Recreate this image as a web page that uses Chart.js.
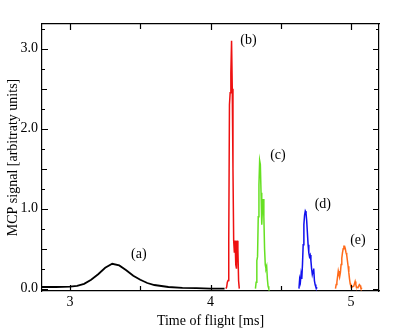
<!DOCTYPE html>
<html>
<head>
<meta charset="utf-8">
<script src="https://cdn.jsdelivr.net/npm/chart.js@4.4.1/dist/chart.umd.min.js"></script>
<style>
  html, body { margin: 0; padding: 0; background: #fff; }
</style>
</head>
<body>
<canvas id="myChart" width="415" height="330"></canvas>
<script>
// peak (a) - black
const xA = [2.80, 2.90, 3.00, 3.05, 3.10, 3.15, 3.20, 3.25, 3.30, 3.35, 3.40, 3.45, 3.50, 3.55, 3.60, 3.70, 3.80, 3.90, 4.00, 4.10];
const yA = [0.02, 0.02, 0.025, 0.035, 0.06, 0.11, 0.18, 0.26, 0.31, 0.29, 0.23, 0.16, 0.11, 0.07, 0.045, 0.02, 0.01, 0.005, 0.0, 0.0];

// peak (b) - red
const xB = [4.11, 4.115, 4.12, 4.125, 4.13, 4.135, 4.14, 4.145, 4.15, 4.155, 4.16, 4.165, 4.17, 4.175, 4.18, 4.185, 4.19, 4.195, 4.20, 4.205];
const yB = [0.0, 0.02, 0.08, 0.1, 0.6, 2.3, 2.45, 2.7, 3.1, 2.5, 1.5, 0.6, 0.45, 0.6, 0.3, 0.25, 0.6, 0.5, 0.1, 0.0];

// peak (c) - green
const xC = [4.32, 4.325, 4.33, 4.335, 4.34, 4.345, 4.35, 4.355, 4.36, 4.365, 4.37, 4.375, 4.38, 4.385, 4.39, 4.395, 4.40, 4.405, 4.41, 4.415];
const yC = [0.0, 0.08, 0.35, 0.4, 0.9, 1.3, 1.6, 1.55, 1.2, 0.8, 1.0, 1.12, 0.9, 0.5, 0.3, 0.25, 0.28, 0.12, 0.03, 0.0];

// peak (d) - blue
const xD = [4.63, 4.635, 4.64, 4.645, 4.65, 4.655, 4.66, 4.665, 4.67, 4.675, 4.68, 4.685, 4.69, 4.695, 4.70, 4.705, 4.71, 4.715, 4.72, 4.725, 4.73, 4.735, 4.74, 4.745, 4.75, 4.76];
const yD = [0.0, 0.12, 0.08, 0.18, 0.12, 0.3, 0.55, 0.8, 0.92, 0.97, 0.95, 0.85, 0.7, 0.55, 0.45, 0.4, 0.42, 0.35, 0.25, 0.18, 0.22, 0.25, 0.1, 0.05, 0.02, 0.0];

// peak (e) - orange
const xE = [4.89, 4.895, 4.90, 4.905, 4.91, 4.915, 4.92, 4.925, 4.93, 4.935, 4.94, 4.945, 4.95, 4.955, 4.96, 4.965, 4.97, 4.975, 4.98, 4.985, 4.99, 4.995, 5.00, 5.01, 5.02, 5.03, 5.035, 5.04, 5.05, 5.06, 5.065, 5.07, 5.08];
const yE = [0.0, 0.05, 0.08, 0.15, 0.22, 0.18, 0.15, 0.2, 0.3, 0.38, 0.45, 0.5, 0.53, 0.53, 0.5, 0.45, 0.42, 0.35, 0.28, 0.2, 0.12, 0.06, 0.03, 0.02, 0.03, 0.09, 0.05, 0.02, 0.01, 0.05, 0.04, 0.01, 0.0];

const peakLabels = ["(a)", "(b)", "(c)", "(d)", "(e)"];
const labelX = [3.49, 4.27, 4.48, 4.80, 5.05];
const labelY = [0.43, 3.10, 1.67, 1.05, 0.60];
const colors = ["#000000", "#ee1111", "#66e022", "#1111ee", "#ff6a1a"];

const xTicks = [3, 4, 5];
const xMinor = [3.5, 4.5];
const yTicks = [0, 1, 2, 3];
const yHalf = [0.5, 1.5, 2.5];
const yQuarter = [0.25, 0.75, 1.25, 1.75, 2.25, 2.75, 3.25];

const serif = "'Liberation Serif', 'Times New Roman', serif";

function toPoints(xs, ys) {
  return xs.map((x, i) => ({ x: x, y: ys[i] }));
}

const series = [
  toPoints(xA, yA),
  toPoints(xB, yB),
  toPoints(xC, yC),
  toPoints(xD, yD),
  toPoints(xE, yE),
];

// inward ticks on all four sides + peak labels
const framePlugin = {
  id: "frame",
  afterDraw(chart) {
    const ctx = chart.ctx;
    const area = chart.chartArea;
    const xs = chart.scales.x;
    const ys = chart.scales.y;
    ctx.save();
    ctx.strokeStyle = "#000";
    ctx.lineWidth = 1.2;

    const xMark = (v, len) => {
      const px = Math.round(xs.getPixelForValue(v)) + 0.5;
      ctx.beginPath();
      ctx.moveTo(px, area.bottom);
      ctx.lineTo(px, area.bottom - len);
      ctx.moveTo(px, area.top);
      ctx.lineTo(px, area.top + len);
      ctx.stroke();
    };
    const yMark = (v, len) => {
      const py = Math.round(ys.getPixelForValue(v)) + 0.5;
      ctx.beginPath();
      ctx.moveTo(area.left, py);
      ctx.lineTo(area.left + len, py);
      ctx.moveTo(area.right, py);
      ctx.lineTo(area.right - len, py);
      ctx.stroke();
    };
    xTicks.forEach((v) => xMark(v, 6));
    xMinor.forEach((v) => xMark(v, 5));
    yTicks.forEach((v) => yMark(v, 6));
    yHalf.forEach((v) => yMark(v, 5));
    yQuarter.forEach((v) => yMark(v, 3));

    ctx.fillStyle = "#000";
    ctx.font = "14px " + serif;
    ctx.textAlign = "center";
    ctx.textBaseline = "middle";
    peakLabels.forEach((t, i) => {
      ctx.fillText(t, xs.getPixelForValue(labelX[i]), ys.getPixelForValue(labelY[i]));
    });
    ctx.restore();
  },
};

const ctx = document.getElementById("myChart").getContext("2d");

new Chart(ctx, {
  type: "line",
  data: {
    datasets: series.map((pts, i) => ({
      data: pts,
      borderColor: colors[i],
      borderWidth: i === 0 ? 1.8 : 1.5,
      pointRadius: 0,
      tension: 0,
      fill: false,
    })),
  },
  options: {
    responsive: false,
    animation: false,
    layout: { padding: 0 },
    plugins: {
      legend: { display: false },
      tooltip: { enabled: false },
    },
    scales: {
      x: {
        type: "linear",
        position: "bottom",
        min: 2.8,
        max: 5.2,
        afterBuildTicks: (scale) => {
          scale.ticks = xTicks.map((v) => ({ value: v }));
        },
        afterFit: (scale) => {
          scale.height = 39;
        },
        ticks: {
          color: "#000",
          padding: 3,
          maxRotation: 0,
          font: { family: serif, size: 14 },
          callback: (v) => String(v),
        },
        grid: { display: false, drawTicks: false },
        border: { display: true, color: "#000", width: 1.2 },
        title: {
          display: true,
          text: "Time of flight [ms]",
          color: "#000",
          font: { family: serif, size: 14 },
          padding: { top: 0, bottom: 0 },
        },
      },
      x2: {
        type: "linear",
        position: "top",
        min: 2.8,
        max: 5.2,
        afterFit: (scale) => {
          scale.height = 24;
        },
        ticks: { display: false },
        grid: { display: false, drawTicks: false },
        border: { display: true, color: "#000", width: 1.2 },
      },
      y: {
        type: "linear",
        position: "left",
        min: -0.03,
        max: 3.31,
        afterBuildTicks: (scale) => {
          scale.ticks = yTicks.map((v) => ({ value: v }));
        },
        afterFit: (scale) => {
          scale.width = 42;
        },
        ticks: {
          color: "#000",
          padding: 4,
          font: { family: serif, size: 14 },
          callback: (v) => Number(v).toFixed(1),
        },
        grid: { display: false, drawTicks: false },
        border: { display: true, color: "#000", width: 1.2 },
        title: {
          display: true,
          text: "MCP signal [arbitraty units]",
          color: "#000",
          font: { family: serif, size: 14 },
          padding: { top: 5, bottom: 0 },
        },
      },
      y2: {
        type: "linear",
        position: "right",
        min: -0.03,
        max: 3.31,
        afterFit: (scale) => {
          scale.width = 36;
        },
        ticks: { display: false },
        grid: { display: false, drawTicks: false },
        border: { display: true, color: "#000", width: 1.2 },
      },
    },
  },
  plugins: [framePlugin],
});
</script>
</body>
</html>
